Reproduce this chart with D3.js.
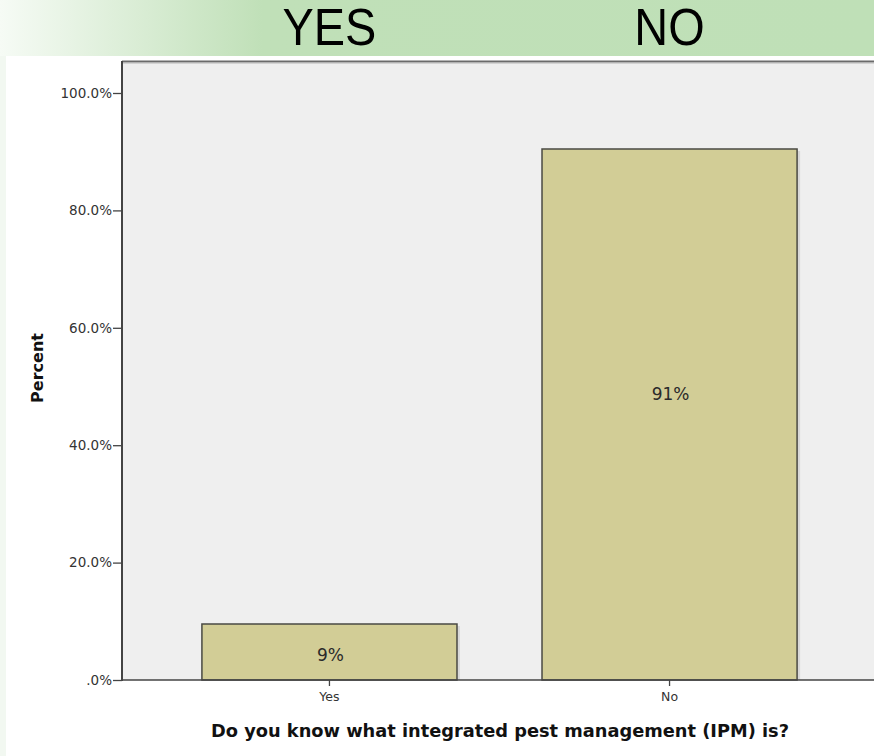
<!DOCTYPE html>
<html><head><meta charset="utf-8">
<script src="https://cdn.jsdelivr.net/npm/d3@7"></script>
<style>html,body{margin:0;padding:0;background:#fff;overflow:hidden}</style>
</head><body>
<script>
const categories = ["Yes", "No"];
const percents = [9.54, 90.46];
const barLabels = ["9%", "91%"];
const bannerLabels = ["YES", "NO"];
const yTicks = [0, 20, 40, 60, 80, 100];
const yTickLabels = [".0%", "20.0%", "40.0%", "60.0%", "80.0%", "100.0%"];
const xTitle = "Do you know what integrated pest management (IPM) is?";
const yTitle = "Percent";

(function () {
const W = 874, H = 756;
const labelNudge = [3, -20];
const svg = d3.select("body").append("svg").attr("width", W).attr("height", H);
const defs = svg.append("defs");
const g1 = defs.append("linearGradient").attr("id", "ban").attr("x1", 0).attr("x2", 1).attr("y1", 0).attr("y2", 0);
g1.append("stop").attr("offset", "0").attr("stop-color", "#f6fbf5");
g1.append("stop").attr("offset", "0.3").attr("stop-color", "#c0e0b8");
g1.append("stop").attr("offset", "1").attr("stop-color", "#bfe0b7");

svg.append("rect").attr("x", 0).attr("y", 0).attr("width", 6).attr("height", H).attr("fill", "#f2f8f1");
svg.append("rect").attr("x", 0).attr("y", 0).attr("width", W).attr("height", 56).attr("fill", "url(#ban)");

const pLeft = 122, pTop = 61, pBottom = 680;
const x = d3.scaleBand().domain(categories).range([pLeft, 877]).paddingInner(0.25).paddingOuter(0.235);
const y = d3.scaleLinear().domain([0, 100]).range([pBottom, 93]);

svg.selectAll("text.ban").data(bannerLabels).enter().append("text")
  .attr("transform", (d, i) => `translate(${x(categories[i]) + x.bandwidth() / 2},45) scale(0.92,1)`)
  .attr("text-anchor", "middle")
  .style("font-family", "'Liberation Sans', Arial, sans-serif").style("font-size", "51px").attr("fill", "#000")
  .text(d => d);

svg.append("rect").attr("x", pLeft).attr("y", pTop).attr("width", W - pLeft).attr("height", pBottom - pTop).attr("fill", "#efefef");
svg.append("line").attr("x1", pLeft).attr("x2", W).attr("y1", pTop + 0.5).attr("y2", pTop + 0.5).attr("stroke", "#6b6b6b").attr("stroke-width", 2);
svg.append("line").attr("x1", pLeft).attr("x2", W).attr("y1", pTop + 2).attr("y2", pTop + 2).attr("stroke", "#b8b8b8").attr("stroke-width", 1);

svg.selectAll("rect.sh").data(percents).enter().append("rect")
  .attr("x", (d, i) => x(categories[i]) + 3).attr("y", d => y(d) + 2)
  .attr("width", x.bandwidth()).attr("height", d => pBottom - y(d) - 2).attr("fill", "#c8c8c8").attr("opacity", 0.6);
svg.selectAll("rect.bar").data(percents).enter().append("rect")
  .attr("x", (d, i) => x(categories[i])).attr("y", d => y(d))
  .attr("width", x.bandwidth()).attr("height", d => pBottom - y(d))
  .attr("fill", "#d2cd96").attr("stroke", "#4a4a44").attr("stroke-width", 1.5);

svg.selectAll("text.bl").data(percents).enter().append("text")
  .attr("x", (d, i) => x(categories[i]) + x.bandwidth() / 2 + 1)
  .attr("y", (d, i) => (y(d) + pBottom) / 2 + labelNudge[i] + 6).attr("text-anchor", "middle")
  .style("font-family", "'DejaVu Sans', sans-serif").style("font-size", "17px").attr("fill", "#2a2a2a")
  .text((d, i) => barLabels[i]);

const yAxis = d3.axisLeft(y).tickValues(yTicks).tickFormat((d, i) => yTickLabels[i]).tickSize(9).tickPadding(1);
const ya = svg.append("g").attr("transform", `translate(${pLeft},0)`).call(yAxis);
ya.select(".domain").remove();
ya.selectAll("line").attr("stroke", "#444").attr("stroke-width", 1.3);
ya.selectAll("text").style("font-family", "'DejaVu Sans', sans-serif").style("font-size", "13.5px").attr("fill", "#333");
svg.append("line").attr("x1", pLeft).attr("x2", pLeft).attr("y1", pTop).attr("y2", pBottom + 1).attr("stroke", "#444").attr("stroke-width", 2);

const xAxis = d3.axisBottom(x).tickSize(6).tickPadding(6);
const xa = svg.append("g").attr("transform", `translate(0,${pBottom})`).call(xAxis);
xa.select(".domain").remove();
xa.selectAll("line").attr("stroke", "#444").attr("stroke-width", 1.3);
xa.selectAll("text").style("font-family", "'DejaVu Sans', sans-serif").style("font-size", "12.5px").attr("fill", "#333");
svg.append("line").attr("x1", pLeft).attr("x2", W).attr("y1", pBottom).attr("y2", pBottom).attr("stroke", "#444").attr("stroke-width", 1.5);

svg.append("text").attr("x", 500).attr("y", 737).attr("text-anchor", "middle")
  .style("font-family", "'DejaVu Sans', sans-serif").style("font-size", "17.8px").style("font-weight", "bold").attr("fill", "#111")
  .text(xTitle);
svg.append("text").attr("transform", "translate(43,368) rotate(-90)").attr("text-anchor", "middle")
  .style("font-family", "'DejaVu Sans', sans-serif").style("font-size", "16px").style("font-weight", "bold").attr("fill", "#111")
  .text(yTitle);
})();
</script>
</body></html>
